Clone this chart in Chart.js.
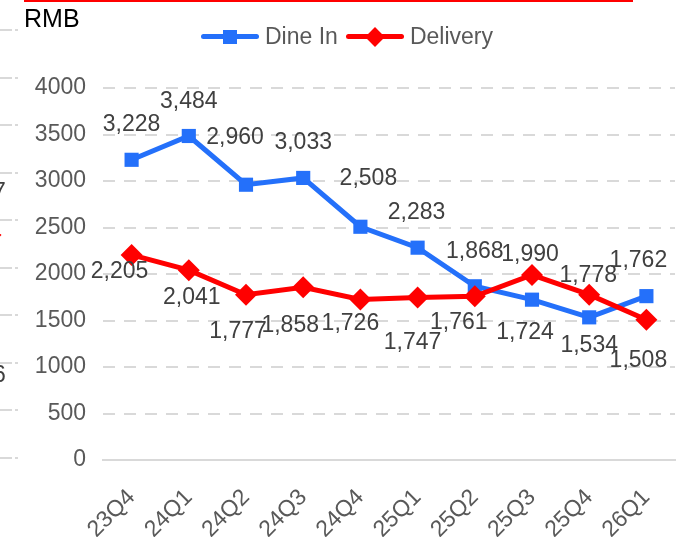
<!DOCTYPE html>
<html>
<head>
<meta charset="utf-8">
<script src="https://cdn.jsdelivr.net/npm/chart.js@4.4.1/dist/chart.umd.min.js"></script>
<style>
  html, body { margin: 0; padding: 0; background: #fff; }
  #wrap { position: relative; width: 681px; height: 537px; overflow: hidden; font-family: "Liberation Sans", Arial, sans-serif; }
  #myChart { position: absolute; left: 0; top: 0; }
  .top-rule { position: absolute; left: 24px; top: 0; width: 609px; height: 2px; background: #ff0000; }
  .unit { position: absolute; left: 24px; top: 6px; font-size: 25px; line-height: 25px; color: #000; }
  .legend { position: absolute; left: 201px; top: 25px; display: flex; align-items: center; font-size: 23px; line-height: 23px; color: #595959; }
  .legend .item { display: flex; align-items: center; margin-right: 8px; }
  .legend .swatch { position: relative; width: 58px; height: 5px; border-radius: 3px; margin-right: 6px; }
  .legend .mark { position: absolute; left: 22px; top: -4.5px; width: 14px; height: 14px; }
  .legend .mark.diamond { transform: rotate(45deg); }
  /* sliver of the neighbouring chart on the left edge */
  .edge { position: absolute; left: 0; top: 29px; width: 18px; height: 431px;
    background: repeating-linear-gradient(to bottom, #d9d9d9 0, #d9d9d9 2px, transparent 2px, transparent 47.55px);
    -webkit-mask-image: linear-gradient(to right, #000 0, #000 12px, transparent 12px, transparent 15px, #000 15px);
    mask-image: linear-gradient(to right, #000 0, #000 12px, transparent 12px, transparent 15px, #000 15px); }
  .edge-txt { position: absolute; font-size: 23px; line-height: 23px; color: #404040; }
  .edge-dot { position: absolute; left: -13px; top: 229px; width: 12px; height: 12px; background: #ff0000; transform: rotate(45deg); }
</style>
</head>
<body>
<div id="wrap">
  <canvas id="myChart" width="681" height="537"></canvas>
  <div class="top-rule"></div>
  <div class="unit">RMB</div>
  <div class="legend" id="legend"></div>
  <div class="edge"></div>
  <div class="edge-txt" style="left:-7px; top:180px;">7</div>
  <div class="edge-txt" style="left:-7px; top:363px;">6</div>
  <div class="edge-dot"></div>
</div>
<script>
const quarters = ['23Q4', '24Q1', '24Q2', '24Q3', '24Q4', '25Q1', '25Q2', '25Q3', '25Q4', '26Q1'];
const dineIn = [3228, 3484, 2960, 3033, 2508, 2283, 1868, 1724, 1534, 1762];
const delivery = [2205, 2041, 1777, 1858, 1726, 1747, 1761, 1990, 1778, 1508];
const yTicks = [0, 500, 1000, 1500, 2000, 2500, 3000, 3500, 4000];

const BLUE = '#2470fa';
const RED = '#ff0000';

// where each value label sits relative to its point (dx, dy), copied from the excel layout
const dineInLabelPos = [[0, -35], [0, -34], [-11, -47], [0, -35], [8, -48], [-1, -35], [0, -35], [-7, 33], [0, 28], [-8, -35]];
const deliveryLabelPos = [[-12, 17], [3, 27], [-8, 37], [-13, 38], [-10, 24], [-5, 45], [-16, 26], [-2, -20], [-1, -19], [-8, 41]];

const valueLabels = {
  id: 'valueLabels',
  afterDatasetsDraw(chart) {
    const ctx = chart.ctx;
    ctx.save();
    ctx.font = '23px "Liberation Sans", Arial, sans-serif';
    ctx.fillStyle = '#404040';
    ctx.textAlign = 'center';
    ctx.textBaseline = 'middle';
    chart.data.datasets.forEach(function (ds, i) {
      const meta = chart.getDatasetMeta(i);
      meta.data.forEach(function (pt, j) {
        const off = ds.labelPos[j];
        ctx.fillText(ds.data[j].toLocaleString('en-US'), pt.x + off[0], pt.y + off[1]);
      });
    });
    ctx.restore();
  }
};

const data = {
  labels: quarters,
  datasets: [
    {
      label: 'Dine In',
      data: dineIn,
      labelPos: dineInLabelPos,
      borderColor: BLUE,
      backgroundColor: BLUE,
      borderWidth: 5,
      pointStyle: 'rect',
      pointRadius: 10,
      pointBorderWidth: 0,
      order: 1,
    },
    {
      label: 'Delivery',
      data: delivery,
      labelPos: deliveryLabelPos,
      borderColor: RED,
      backgroundColor: RED,
      borderWidth: 5,
      pointStyle: 'rectRot',
      pointRadius: 11,
      pointBorderWidth: 0,
      order: 0,
    },
  ],
};

const config = {
  type: 'line',
  data: data,
  options: {
    responsive: false,
    animation: false,
    layout: {
      autoPadding: false,
      padding: { left: 0, right: 6, top: 88, bottom: 0 },
    },
    plugins: {
      legend: { display: false },
      tooltip: { enabled: false },
    },
    scales: {
      x: {
        offset: true,
        afterFit: function (scale) {
          scale.height = 77;
          // rotated labels would otherwise eat into the right side
          scale.paddingRight = 0;
          scale.paddingLeft = 0;
        },
        grid: { display: false, drawTicks: false },
        border: { display: true, color: '#d9d9d9', width: 2 },
        ticks: {
          color: '#595959',
          font: { family: '"Liberation Sans", Arial, sans-serif', size: 23 },
          minRotation: 45,
          maxRotation: 45,
          autoSkip: false,
          padding: 24,
        },
      },
      y: {
        min: 0,
        max: 4000,
        afterFit: function (scale) { scale.width = 103; },
        afterBuildTicks: function (scale) {
          scale.ticks = yTicks.map(function (v) { return { value: v }; });
        },
        grid: { color: '#d9d9d9', lineWidth: 2, drawTicks: false },
        border: { display: false, dash: [12, 9] },
        ticks: {
          color: '#595959',
          font: { family: '"Liberation Sans", Arial, sans-serif', size: 23 },
          padding: 17,
          callback: function (v) { return String(v); },
        },
      },
    },
  },
  plugins: [valueLabels],
};

// html legend: line with the series marker, then the name
const legend = document.getElementById('legend');
data.datasets.forEach(function (ds) {
  const item = document.createElement('div');
  item.className = 'item';
  const swatch = document.createElement('div');
  swatch.className = 'swatch';
  swatch.style.background = ds.borderColor;
  const mark = document.createElement('div');
  mark.className = ds.pointStyle == 'rectRot' ? 'mark diamond' : 'mark';
  mark.style.background = ds.borderColor;
  swatch.appendChild(mark);
  const name = document.createElement('span');
  name.textContent = ds.label;
  item.appendChild(swatch);
  item.appendChild(name);
  legend.appendChild(item);
});

var ctx = document.getElementById('myChart');
var myChart = new Chart(ctx, config);
</script>
</body>
</html>
